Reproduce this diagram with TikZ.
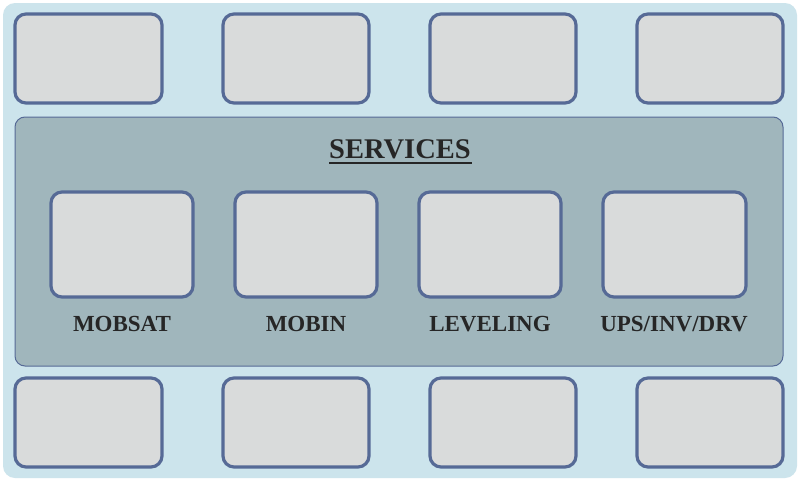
\documentclass[tikz,border=0pt]{standalone}
\usepackage{fontspec}
\setmainfont{Liberation Serif}
\begin{document}
\begin{tikzpicture}[x=1pt,y=-1pt,
  bg/.style={fill=bgblue,draw=none,rounded corners=12pt},
  panel/.style={fill=panelgray,draw=boxborder,line width=1pt,rounded corners=10pt},
  gbox/.style={fill=boxfill,draw=boxborder,line width=3.2pt,rounded corners=11pt},
  lbl/.style={font=\fontsize{23}{26}\selectfont\bfseries,text=txt,inner sep=0pt},
  ttl/.style={font=\fontsize{28.5}{32}\selectfont\bfseries,text=txt,inner sep=0pt}]
\definecolor{bgblue}{HTML}{CCE4EC}
\definecolor{panelgray}{HTML}{A0B6BC}
\definecolor{boxborder}{HTML}{566A96}
\definecolor{boxfill}{HTML}{D9DBDB}
\definecolor{txt}{HTML}{262626}
\useasboundingbox (0,0) rectangle (801,482);
\fill[white] (0,0) rectangle (801,482);
\path[bg] (3,3) rectangle (797,478);
% top row
\draw[gbox] (15,14) rectangle (162,103);
\draw[gbox] (223,14) rectangle (369,103);
\draw[gbox] (430,14) rectangle (576,103);
\draw[gbox] (637,14) rectangle (783,103);
% bottom row
\draw[gbox] (15,378) rectangle (162,467);
\draw[gbox] (223,378) rectangle (369,467);
\draw[gbox] (430,378) rectangle (576,467);
\draw[gbox] (637,378) rectangle (783,467);
% panel
\draw[panel] (15,117) rectangle (783,366);
\node[ttl,anchor=base] (title) at (400,158) {SERVICES};
\draw[txt,line width=2pt] (title.base west)++(0,5) -- ++(143,0);
% inner boxes
\draw[gbox] (51,192) rectangle (193,297);
\draw[gbox] (235,192) rectangle (377,297);
\draw[gbox] (419,192) rectangle (561,297);
\draw[gbox] (603,192) rectangle (746,297);
\node[lbl,anchor=base] (l1) at (122,331) {MOBSAT};
\node[lbl,anchor=base] (l2) at (306,331) {MOBIN};
\node[lbl,anchor=base] (l3) at (490,331) {LEVELING};
\node[lbl,anchor=base] (l4) at (674,331) {UPS/INV/DRV};
\end{tikzpicture}
\end{document}
